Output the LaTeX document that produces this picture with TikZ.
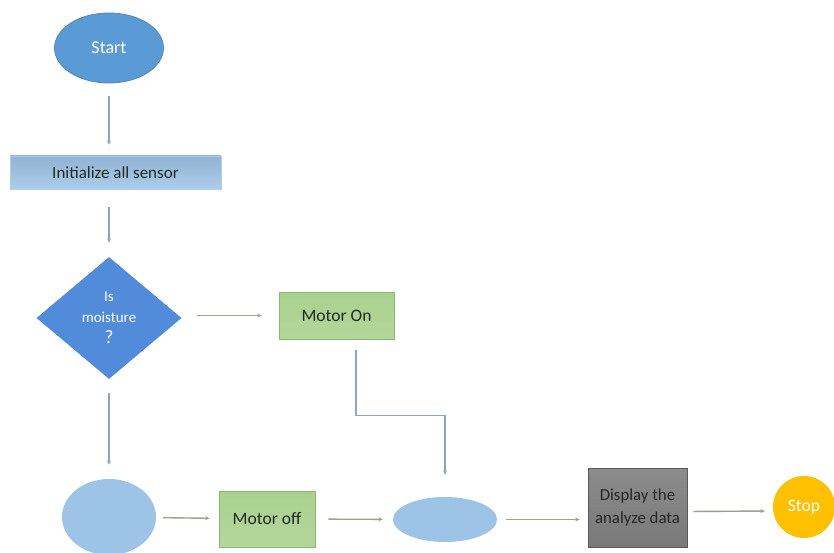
\documentclass[tikz,border=0pt]{standalone}
\usepackage{fontspec}
\setmainfont{Carlito}
\usetikzlibrary{shapes.geometric,arrows.meta}
\definecolor{startblue}{HTML}{5B9BD5}
\definecolor{startline}{HTML}{4F86BE}
\definecolor{lightblue}{HTML}{9DC3E6}
\definecolor{boxgreen}{HTML}{A9D18E}
\definecolor{greenline}{HTML}{8DB573}
\definecolor{grayfill}{HTML}{7F7F7F}
\definecolor{stopyellow}{HTML}{FFC000}
\definecolor{vline}{HTML}{8FA6C2}
\definecolor{hline}{HTML}{9AA38C}
\definecolor{txt}{HTML}{1E2A1E}
\tikzset{
  term/.style={ellipse, inner sep=0pt, fill=startblue, draw=startline, line width=0.8pt, text=white},
  lblob/.style={ellipse, inner sep=0pt, fill=lightblue, draw=none},
  initbox/.style={rectangle, inner sep=0pt, top color=lightblue!92!black, bottom color=lightblue!85!white, draw=lightblue!80!white, text=txt},
  greenbox/.style={rectangle, inner sep=0pt, top color=boxgreen, bottom color=boxgreen!88!white, draw=greenline, line width=0.8pt, text=txt},
  graybox/.style={rectangle, inner sep=0pt, top color=grayfill!90!white, bottom color=grayfill!95!black, draw=black!65, line width=0.8pt, text=black!85, align=center},
  decide/.style={diamond, inner sep=0pt, fill=startblue!90!blue, draw=none, text=white, align=center},
  stopnode/.style={circle, inner sep=0pt, fill=stopyellow, draw=none, text=white},
  vconn/.style={draw=vline, line width=1.4pt, -{Stealth[length=4.5pt,width=4pt]}},
  hconn/.style={draw=hline, line width=1.4pt, -{Stealth[length=4.5pt,width=4pt]}},
}
\begin{document}
\begin{tikzpicture}[x=1pt,y=-1pt]
\useasboundingbox[fill=white] (0,0) rectangle (834,553);

\node[term, minimum width=109pt, minimum height=70pt, font=\fontsize{18}{20}\selectfont] (start) at (109,48) {Start};
\node[initbox, minimum width=211pt, minimum height=33pt, font=\fontsize{17}{20}\selectfont] (init) at (115.5,172.5) {Initialize all sensor};
\node[decide, minimum width=145pt, minimum height=122pt, font=\fontsize{15}{21}\selectfont] (dec) at (109,318)
  {Is\\moisture\\{\fontsize{19}{21}\selectfont ?}};
\node[greenbox, minimum width=115pt, minimum height=47pt, font=\fontsize{17.5}{20}\selectfont] (mon) at (336.5,315.5) {Motor On};
\node[lblob, minimum width=94pt, minimum height=76pt] (e1) at (109,517) {};
\node[greenbox, minimum width=96pt, minimum height=56pt, font=\fontsize{17.5}{20}\selectfont] (moff) at (267,519) {Motor off};
\node[lblob, minimum width=104pt, minimum height=45pt] (e2) at (445,519.5) {};
\node[graybox, minimum width=99pt, minimum height=79pt, font=\fontsize{16.8}{23}\selectfont] (disp) at (637.5,507.5) {Display the\\analyze data};
\node[stopnode, minimum size=62pt, font=\fontsize{17.5}{19}\selectfont] (stop) at (804,507) {Stop};

\draw[vconn, shorten <=13pt, shorten >=11pt] (start) -- (start |- init.north);
\draw[vconn, shorten <=18pt, shorten >=14pt] (init.south -| dec) -- (dec);
\draw[hconn, shorten <=15pt, shorten >=17pt] (dec.east |- mon) -- (mon);
\draw[vconn, shorten <=11pt, shorten >=22pt] ([xshift=19.5pt]mon.south) -- ++(0,76) -| (e2.north);
\draw[vconn, shorten <=14pt, shorten >=14pt] (dec) -- (e1);
\draw[hconn, shorten <=7pt, shorten >=9pt] (e1) -- (moff);
\draw[hconn, shorten <=13pt, shorten >=10pt] (moff) -- (e2);
\draw[hconn, shorten <=9pt, shorten >=8pt] (e2) -- (disp.west |- e2);
\draw[hconn, shorten <=6pt, shorten >=8pt] ([yshift=-4pt]disp.east) -- ([yshift=-4pt]stop.west);
\end{tikzpicture}
\end{document}
